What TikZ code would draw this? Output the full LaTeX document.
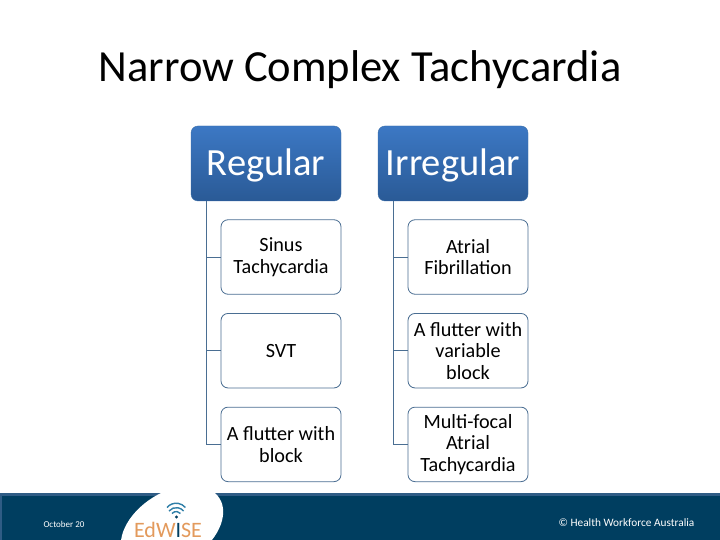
\documentclass[tikz,border=0pt]{standalone}
\usepackage{fontspec}
\setmainfont{Carlito}
\usetikzlibrary{arrows,shapes,positioning,backgrounds}
\definecolor{footblue}{HTML}{003E60}
\definecolor{footedge}{HTML}{2F5C85}
\definecolor{rootedge}{HTML}{3A6EA8}
\definecolor{roottop}{HTML}{3C78C4}
\definecolor{rootlow}{HTML}{2A5A96}
\definecolor{treeline}{HTML}{4A6E92}
\definecolor{logoorange}{HTML}{E39A5C}
\definecolor{logoblue}{HTML}{2F7FA8}

\begin{document}
\begin{tikzpicture}[x=1pt,y=1pt,node distance=93.7pt]
  \tikzstyle{root}=[rectangle,rounded corners=7pt,draw=rootedge,top color=roottop,
                    bottom color=rootlow,text=white,minimum width=150pt,minimum height=75pt,
                    inner sep=0pt,text height=30pt,text depth=6pt,font=\fontsize{38.5}{38.5}\selectfont]
  \tikzstyle{child}=[rectangle,rounded corners=7pt,draw=treeline,line width=0.8pt,fill=white,text=black,
                     minimum width=120pt,minimum height=74.5pt,inner sep=0pt,align=center,
                     font=\fontsize{20.2}{21.5}\selectfont]
  \tikzstyle{tree}=[draw=treeline,line width=0.8pt]
  \useasboundingbox (0,0) rectangle (720,-540);
  \fill[white] (0,0) rectangle (720,-540);
  \node (title) at (360,-69.5) {\fontsize{44.5}{45}\selectfont Narrow Complex Tachycardia};
  \begin{scope}[xshift=0pt]
    \node [root] (reg) at (266,-163.5) {Regular};
    \node [child] (reg1) at (281,-257) {Sinus\\Tachycardia};
    \node [child] (reg2) [below of=reg1] {SVT};
    \node [child] (reg3) [below of=reg2] {A flutter with\\block};
    \coordinate (regtrunk) at ([xshift=15.5pt]reg.south west);
    \draw [tree] (regtrunk) |- (reg1.west);
    \draw [tree] (regtrunk) |- (reg2.west);
    \draw [tree] (regtrunk) |- (reg3.west);
  \end{scope}
  \begin{scope}[xshift=187pt]
    \node [root] (irr) at (266,-163.5) {Irregular};
    \node [child] (irr1) at (281,-257) {Atrial\\Fibrillation};
    \node [child] (irr2) [below of=irr1] {A flutter with\\variable\\block};
    \node [child] (irr3) [below of=irr2] {Multi-focal\\Atrial\\Tachycardia};
    \coordinate (irrtrunk) at ([xshift=15.5pt]irr.south west);
    \draw [tree] (irrtrunk) |- (irr1.west);
    \draw [tree] (irrtrunk) |- (irr2.west);
    \draw [tree] (irrtrunk) |- (irr3.west);
  \end{scope}
  % footer
  \fill[footedge] (0,-493) rectangle (720,-540);
  \fill[footblue] (2,-496) rectangle (720,-540);
  \begin{scope}
    \clip (0,-480) rectangle (720,-540);
    \fill[white,rotate around={32:(172,-528)}] (172,-528) ellipse (56pt and 36pt);
  \end{scope}
  \node (date) at (64,-524) [text=white,font=\fontsize{9}{9}\selectfont] {October 20};
  \node (owner) at (626.5,-523) [text=white,font=\fontsize{11.3}{11.3}\selectfont] {© Health Workforce Australia};
  \node (logo) at (168,-529.5) [inner sep=0pt,text=logoorange,font=\fontsize{22}{22}\selectfont] {EdW{\color{footblue}I}SE};
  \draw[logoblue,line width=1.4pt] (172,-513.5) arc (140:40:5.5pt);
  \draw[logoblue,line width=1.4pt] (169,-511) arc (140:40:9.5pt);
  \draw[logoblue,line width=1.4pt] (167,-507.5) arc (140:40:12pt);
  \fill[footblue] (176.5,-517) circle (1.7pt);
\end{tikzpicture}
\end{document}
